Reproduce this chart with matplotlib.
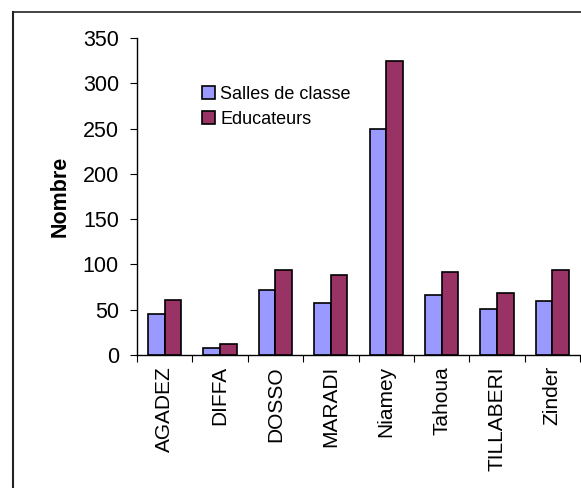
import numpy as np
import matplotlib.pyplot as plt
from matplotlib.lines import Line2D

plt.rcParams["font.family"] = ["Liberation Sans", "DejaVu Sans"]

regions = ["AGADEZ", "DIFFA", "DOSSO", "MARADI", "Niamey", "Tahoua", "TILLABERI", "Zinder"]
salles = [45, 8, 72, 57, 249, 66, 51, 60]
educateurs = [61, 12, 94, 88, 325, 92, 69, 94]
yticks = [0, 50, 100, 150, 200, 250, 300, 350]

W, H = 581, 488
fig = plt.figure(figsize=(W / 100, H / 100), dpi=100)
ax = fig.add_axes([137 / W, 1 - 355 / H, (580 - 137) / W, (355 - 38) / H])

x = np.arange(len(regions))
bw = 0.3
ax.bar(x - bw / 2, salles, bw, color="#9999FF", edgecolor="black", linewidth=1.2,
       label="Salles de classe")
ax.bar(x + bw / 2, educateurs, bw, color="#993366", edgecolor="black", linewidth=1.2,
       label="Educateurs")

ax.set_xlim(-0.5, len(regions) - 0.5)
ax.set_ylim(0, 350)
ax.set_yticks(yticks)
ax.tick_params(axis="y", labelsize=15.5, length=5, pad=8, direction="out")

# category labels between boundary ticks
ax.set_xticks(np.arange(len(regions) + 1) - 0.5)
ax.set_xticklabels([])
ax.tick_params(axis="x", length=5, direction="out")
ax.set_xticks(x, minor=True)
ax.set_xticklabels(regions, minor=True, rotation=90, fontsize=15)
ax.tick_params(axis="x", which="minor", length=0, pad=8)

for side in ["top", "right"]:
    ax.spines[side].set_visible(False)
ax.spines["left"].set_linewidth(1)
ax.spines["bottom"].set_linewidth(1)

ax.set_ylabel("Nombre", fontsize=15.5, fontweight="bold", labelpad=9)

ax.legend(loc="upper left", bbox_to_anchor=(202 / W, 1 - 86 / H),
          bbox_transform=fig.transFigure, frameon=False, fontsize=13,
          handlelength=0.7, handleheight=0.7, handletextpad=0.3,
          labelspacing=0.45, borderaxespad=0, borderpad=0)

# chart area frame (only left and top edges are visible in the crop)
fig.add_artist(Line2D([12.5 / W, 12.5 / W], [0, 1 - 11.5 / H], color="#222222", lw=1.5,
                      transform=fig.transFigure))
fig.add_artist(Line2D([12.5 / W, 1], [1 - 11.5 / H, 1 - 11.5 / H], color="#222222", lw=1.2,
                      transform=fig.transFigure))

fig.savefig("out.png", dpi=100)
